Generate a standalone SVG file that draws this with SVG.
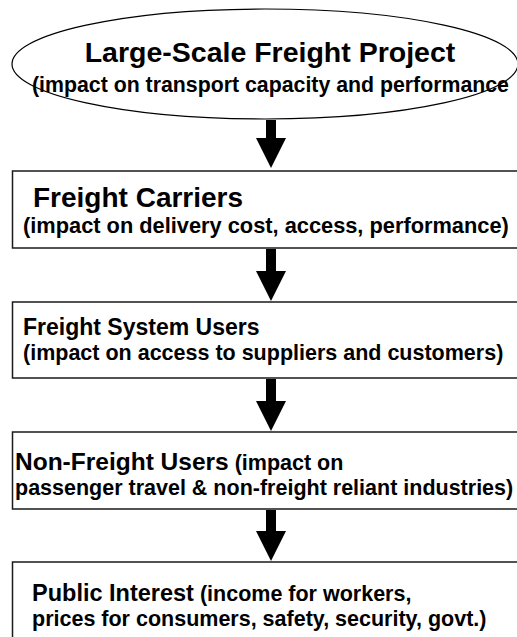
<svg xmlns="http://www.w3.org/2000/svg" width="517" height="637" viewBox="0 0 517 637">
<style>
  text { font-family: "Liberation Sans", Arial, sans-serif; font-weight: bold; fill: #000; }
  .box { fill: #fff; stroke: #1a1a1a; stroke-width: 1.5; }
  .oval { fill: #fff; stroke: #000; stroke-width: 1.2; }
  .t21 { font-size: 21.5px; }
  .arrow { fill: #000; }
</style>
<rect width="517" height="637" fill="#fff"/>
<g id="project">
  <ellipse class="oval" cx="265" cy="64" rx="253" ry="55"/>
  <text x="270" y="62" text-anchor="middle" style="font-size:28.5px">Large-Scale Freight Project</text>
  <text x="270.5" y="92" text-anchor="middle" style="font-size:21.3px">(impact on transport capacity and performance</text>
</g>
<g id="carriers">
  <rect class="box" x="12.5" y="171" width="520" height="77"/>
  <text x="33" y="207" style="font-size:28px">Freight Carriers</text>
  <text x="23" y="233" style="font-size:21.8px">(impact on delivery cost, access, performance)</text>
</g>
<g id="system-users">
  <rect class="box" x="12.5" y="302" width="520" height="76"/>
  <text x="23" y="335" style="font-size:23px">Freight System Users</text>
  <text class="t21" x="23" y="360">(impact on access to suppliers and customers)</text>
</g>
<g id="non-freight-users">
  <rect class="box" x="12.5" y="432" width="520" height="77"/>
  <text class="t21" x="15" y="470"><tspan style="font-size:24.5px">Non-Freight Users</tspan> (impact on</text>
  <text class="t21" x="15" y="495">passenger travel &amp; non-freight reliant industries)</text>
</g>
<g id="public-interest">
  <rect class="box" x="12.5" y="562" width="520" height="100"/>
  <text class="t21" x="32" y="601"><tspan style="font-size:23.5px">Public Interest</tspan> (income for workers,</text>
  <text class="t21" x="32" y="626">prices for consumers, safety, security, govt.)</text>
</g>
<g id="connectors">
  <path class="arrow" d="M266 120H276V138H286L271 168L256 138H266Z"/>
  <path class="arrow" d="M266 249H276V271H286L271 301L256 271H266Z"/>
  <path class="arrow" d="M266 379H276V401H286L271 431L256 401H266Z"/>
  <path class="arrow" d="M266 510H276V531H286L271 561L256 531H266Z"/>
</g>
</svg>
